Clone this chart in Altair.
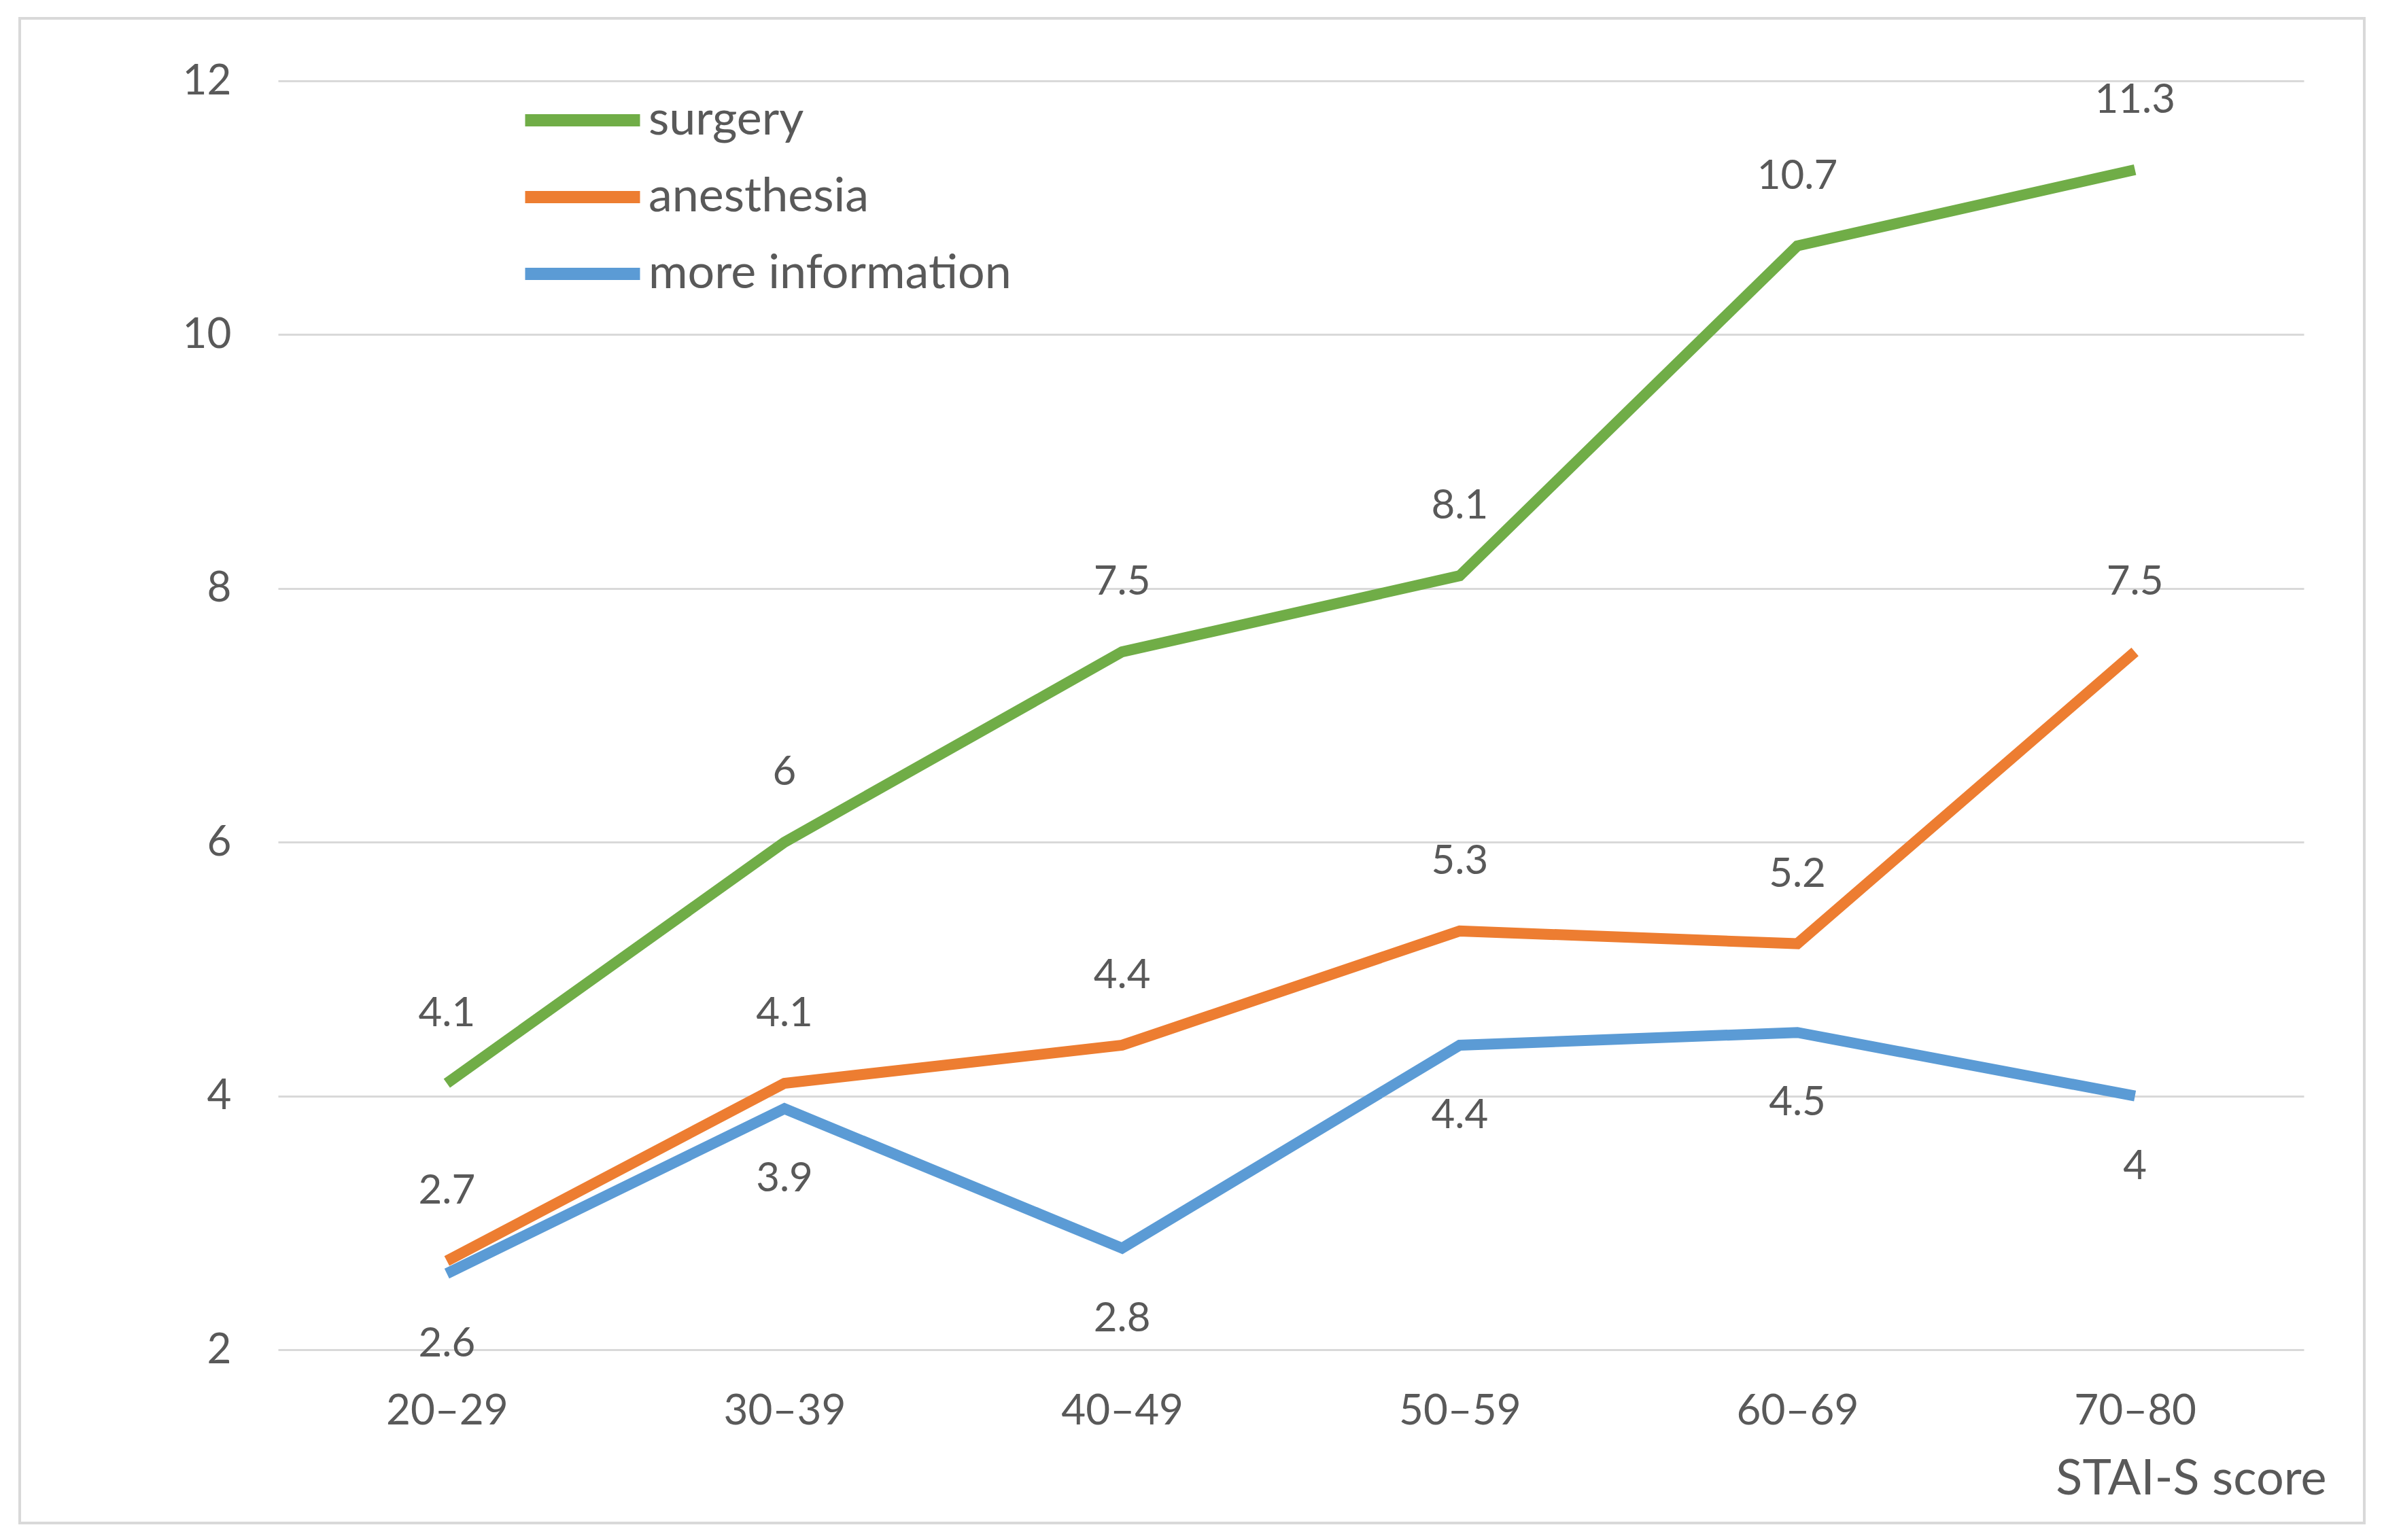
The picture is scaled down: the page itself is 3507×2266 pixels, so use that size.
import altair as alt
import pandas as pd

categories = ["20–29", "30–39", "40–49", "50–59", "60–69", "70–80"]
series_names = ["surgery", "anesthesia", "more information"]
surgery = [4.1, 6, 7.5, 8.1, 10.7, 11.3]
anesthesia = [2.7, 4.1, 4.4, 5.3, 5.2, 7.5]
more_information = [2.6, 3.9, 2.8, 4.4, 4.5, 4]
y_ticks = [2, 4, 6, 8, 10, 12]
colors = ["#70AD47", "#ED7D31", "#5B9BD5"]

rows = []
for name, vals in zip(series_names, [surgery, anesthesia, more_information]):
    for c, v in zip(categories, vals):
        rows.append({"score": c, "series": name, "value": v})
df = pd.DataFrame(rows)

FONT = "Lato"
GRAY = "#595959"

x_enc = alt.X(
    "score:O",
    sort=categories,
    scale=alt.Scale(type="point", padding=0.5),
    axis=alt.Axis(
        title="STAI-S score",
        titleAnchor="end",
        titleAlign="right",
        titleX=3013,
        titleY=190,
        titleBaseline="middle",
        titleFontSize=72,
        titleFontWeight="normal",
        titleFont=FONT,
        titleColor=GRAY,
        labelFontSize=62,
        labelFont=FONT,
        labelColor=GRAY,
        labelPadding=60,
        labelAngle=0,
        ticks=False,
        domain=False,
        grid=False,
    ),
)
y_enc = alt.Y(
    "value:Q",
    scale=alt.Scale(domain=[2, 12], nice=False, zero=False),
    axis=alt.Axis(
        title=None,
        values=y_ticks,
        labelFontSize=62,
        labelFont=FONT,
        labelColor=GRAY,
        labelPadding=69,
        ticks=False,
        domain=False,
        grid=True,
        gridColor="#D9D9D9",
        gridWidth=3,
    ),
)

base = alt.Chart(df)

lines = base.mark_line(strokeWidth=16).encode(
    x=x_enc,
    y=y_enc,
    color=alt.Color(
        "series:N",
        scale=alt.Scale(domain=series_names, range=colors),
        sort=series_names,
        legend=alt.Legend(
            title=None,
            orient="none",
            legendX=413,
            legendY=23,
            padding=0,
            symbolType="M-4.6,0H4.6",
            symbolSize=1350,
            symbolStrokeWidth=18,
            labelOffset=62,
            rowPadding=41,
            labelFontSize=70,
            labelFont=FONT,
            labelColor=GRAY,
            labelLimit=1000,
        ),
    ),
)

text_kw = dict(fontSize=60, font=FONT, color=GRAY, align="center", baseline="middle")

labels_above = base.transform_filter(
    alt.FieldOneOfPredicate(field="series", oneOf=["surgery", "anesthesia"])
).mark_text(dy=-102, **text_kw).encode(x=x_enc, y=y_enc, text=alt.Text("value:Q"))

labels_below = base.transform_filter(
    alt.FieldEqualPredicate(field="series", equal="more information")
).mark_text(dy=104, **text_kw).encode(x=x_enc, y=y_enc, text=alt.Text("value:Q"))

border = alt.Chart(pd.DataFrame({"a": [0]})).mark_rect(
    fillOpacity=0, stroke="#D9D9D9", strokeWidth=4
).encode(
    x=alt.value(-380), x2=alt.value(3069), y=alt.value(-92), y2=alt.value(2122)
)

chart = alt.layer(border, lines, labels_above, labels_below).properties(
    width=2980,
    height=1867,
    autosize=alt.AutoSizeParams(type="none"),
    padding={"left": 401, "top": 111, "right": 100, "bottom": 260},
    background="white",
).configure_view(stroke=None)

chart.save("out.html", embed_options={"renderer": "svg", "actions": False})
